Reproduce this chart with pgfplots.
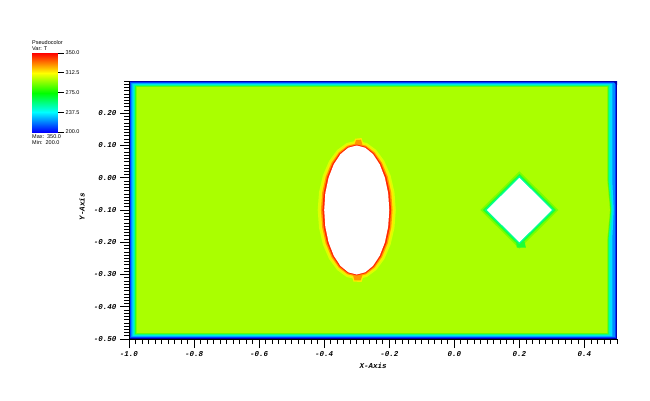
\documentclass[border=0pt]{standalone}
\usepackage{fontspec}
\setmainfont{Liberation Sans}
\setmonofont{Liberation Mono}
\usepackage{pgfplots}
\pgfplotsset{compat=1.18}

\definecolor{wall0}{RGB}{0,0,170}
\definecolor{wall1}{RGB}{0,60,255}
\definecolor{wall2}{RGB}{0,140,255}
\definecolor{wall3}{RGB}{0,220,255}
\definecolor{wall4}{RGB}{0,255,170}
\definecolor{wall5}{RGB}{40,255,40}
\definecolor{wall6}{RGB}{120,255,0}
\definecolor{bulk}{RGB}{170,255,0}
\definecolor{hot0}{RGB}{220,255,0}
\definecolor{hot1}{RGB}{255,235,0}
\definecolor{hot2}{RGB}{255,150,0}
\definecolor{hot3}{RGB}{255,40,0}
\definecolor{dia0}{RGB}{120,255,0}
\definecolor{dia1}{RGB}{30,255,50}
\definecolor{dia2}{RGB}{0,255,150}

\pgfplotsset{colormap={visithot}{rgb255=(0,0,255) rgb255=(0,255,255) rgb255=(0,255,0) rgb255=(255,255,0) rgb255=(255,0,0)}}

\begin{document}
\begin{tikzpicture}
\path[use as bounding box] (0,0) rectangle (650pt,400pt);

% colour legend
\begin{axis}[
    at={(32pt,268pt)}, anchor=south west,
    scale only axis, width=26pt, height=79pt,
    xmin=0, xmax=1, ymin=200, ymax=350,
    axis line style={draw=none},
    xtick=\empty,
    ytick={200,237.5,275,312.5,350},
    ytick pos=right, yticklabel pos=right,
    tick align=outside, major tick length=6pt,
    tick style={black, line width=0.6pt},
    yticklabel style={font=\fontsize{5.5}{6}\selectfont, inner sep=1.5pt,
        /pgf/number format/.cd, fixed, fixed zerofill, precision=1, assume math mode=true},
    colormap name=visithot,
]
\addplot[surf, shader=interp, mesh/rows=5, mesh/cols=2, point meta=y] coordinates {
    (0,200) (1,200)
    (0,237.5) (1,237.5)
    (0,275) (1,275)
    (0,312.5) (1,312.5)
    (0,350) (1,350)
};
\end{axis}

\begin{axis}[
    at={(129pt,61pt)}, anchor=south west,
    scale only axis, width=488pt, height=258pt,
    xmin=-1, xmax=0.5, ymin=-0.5, ymax=0.3,
    axis x line*=bottom, axis y line*=left,
    axis on top, no markers,
    axis line style={black, line width=0.8pt},
    tick align=outside,
    major tick length=9pt, minor tick length=5pt,
    tick style={black, line width=0.7pt},
    xtick={-1,-0.8,-0.6,-0.4,-0.2,0,0.2,0.4},
    ytick={-0.5,-0.4,-0.3,-0.2,-0.1,0,0.1,0.2},
    minor xtick={-1,-0.98,...,0.5},
    minor ytick={-0.5,-0.49,...,0.3},
    ticklabel style={font=\ttfamily\bfseries\itshape\fontsize{7.5}{8}\selectfont},
    xticklabel style={/pgf/number format/.cd, fixed, fixed zerofill, precision=1, assume math mode=true},
    yticklabel style={/pgf/number format/.cd, fixed, fixed zerofill, precision=2, assume math mode=true},
    xlabel={X-Axis}, ylabel={Y-Axis},
    label style={font=\ttfamily\bfseries\itshape\fontsize{7.5}{8}\selectfont},
    xlabel style={at={(axis description cs:0.5,-0.105)}, anchor=center},
    ylabel style={at={(axis description cs:-0.0963,0.512)}, anchor=center},
]
% cold walls
\addplot[fill=wall0, draw=none] coordinates {(-1,-0.5) (0.5,-0.5) (0.5,0.3) (-1,0.3)} -- cycle;
\addplot[fill=wall1, draw=none] coordinates {(-0.9965,-0.498) (0.497,-0.498) (0.497,0.2975) (-0.9965,0.2975)} -- cycle;
\addplot[fill=wall2, draw=none] coordinates {(-0.993,-0.495) (0.493,-0.495) (0.493,0.295) (-0.993,0.295)} -- cycle;
\addplot[fill=wall0, draw=none] coordinates {(0.487,0.3) (0.5,0.3) (0.5,0.287)} -- cycle;
\addplot[fill=wall3, draw=none] coordinates {(-0.9895,-0.492) (0.486,-0.492) (0.486,-0.18) (0.490,-0.1) (0.486,-0.02) (0.486,0.292) (-0.9895,0.292)} -- cycle;
\addplot[fill=wall4, draw=none] coordinates {(-0.986,-0.489) (0.479,-0.489) (0.479,-0.19) (0.486,-0.1) (0.479,-0.01) (0.479,0.289) (-0.986,0.289)} -- cycle;
\addplot[fill=wall5, draw=none] coordinates {(-0.982,-0.4855) (0.474,-0.4855) (0.474,-0.19) (0.482,-0.1) (0.474,-0.01) (0.474,0.2855) (-0.982,0.2855)} -- cycle;
\addplot[fill=wall6, draw=none] coordinates {(-0.978,-0.483) (0.472,-0.483) (0.472,-0.19) (0.480,-0.1) (0.472,-0.01) (0.472,0.283) (-0.978,0.283)} -- cycle;
\addplot[fill=bulk, draw=none] coordinates {(-0.975,-0.481) (0.470,-0.481) (0.470,-0.19) (0.478,-0.1) (0.470,-0.01) (0.470,0.281) (-0.975,0.281)} -- cycle;

% hot ellipse
\addplot[fill=hot0, draw=none] coordinates {
    (-0.18,-0.1) (-0.1841,-0.0444) (-0.1961,0.0075) (-0.2151,0.052) (-0.24,0.0862) (-0.2689,0.1077)
    (-0.3,0.115) (-0.3311,0.1077) (-0.36,0.0862) (-0.3849,0.052) (-0.4039,0.0075) (-0.4159,-0.0444)
    (-0.42,-0.1) (-0.4159,-0.1556) (-0.4039,-0.2075) (-0.3849,-0.252) (-0.36,-0.2862) (-0.3311,-0.3077)
    (-0.3,-0.315) (-0.2689,-0.3077) (-0.24,-0.2862) (-0.2151,-0.252) (-0.1961,-0.2075) (-0.1841,-0.1556)} -- cycle;
\addplot[fill=hot1, draw=none] coordinates {
    (-0.1855,-0.1) (-0.1894,-0.0457) (-0.2008,0.005) (-0.219,0.0485) (-0.2427,0.0819) (-0.2704,0.1028)
    (-0.3,0.11) (-0.3296,0.1028) (-0.3573,0.0819) (-0.381,0.0485) (-0.3992,0.005) (-0.4106,-0.0457)
    (-0.4145,-0.1) (-0.4106,-0.1543) (-0.3992,-0.205) (-0.381,-0.2485) (-0.3573,-0.2819) (-0.3296,-0.3028)
    (-0.3,-0.31) (-0.2704,-0.3028) (-0.2427,-0.2819) (-0.219,-0.2485) (-0.2008,-0.205) (-0.1894,-0.1543)} -- cycle;
\addplot[fill=hot1, draw=none] coordinates {(-0.312,0.1) (-0.305,0.121) (-0.285,0.123) (-0.278,0.1)} -- cycle;
\addplot[fill=hot1, draw=none] coordinates {(-0.316,-0.3) (-0.31,-0.322) (-0.285,-0.323) (-0.278,-0.3)} -- cycle;
\addplot[fill=hot2, draw=none] coordinates {
    (-0.19,-0.1) (-0.1938,-0.0466) (-0.2047,0.0033) (-0.2222,0.046) (-0.245,0.0788) (-0.2715,0.0995)
    (-0.3,0.1065) (-0.3285,0.0995) (-0.355,0.0788) (-0.3778,0.046) (-0.3953,0.0033) (-0.4062,-0.0466)
    (-0.41,-0.1) (-0.4062,-0.1534) (-0.3953,-0.2033) (-0.3778,-0.246) (-0.355,-0.2788) (-0.3285,-0.2995)
    (-0.3,-0.3065) (-0.2715,-0.2995) (-0.245,-0.2788) (-0.2222,-0.246) (-0.2047,-0.2033) (-0.1938,-0.1534)} -- cycle;
\addplot[fill=hot2, draw=none] coordinates {(-0.308,0.1) (-0.302,0.117) (-0.287,0.118) (-0.282,0.1)} -- cycle;
\addplot[fill=hot2, draw=none] coordinates {(-0.312,-0.3) (-0.307,-0.318) (-0.288,-0.318) (-0.282,-0.3)} -- cycle;
\addplot[fill=hot3, draw=none] coordinates {
    (-0.1945,-0.1) (-0.1981,-0.0475) (-0.2086,0.0015) (-0.2254,0.0435) (-0.2472,0.0758) (-0.2727,0.0961)
    (-0.3,0.103) (-0.3273,0.0961) (-0.3528,0.0758) (-0.3746,0.0435) (-0.3914,0.0015) (-0.4019,-0.0475)
    (-0.4055,-0.1) (-0.4019,-0.1525) (-0.3914,-0.2015) (-0.3746,-0.2435) (-0.3528,-0.2758) (-0.3273,-0.2961)
    (-0.3,-0.303) (-0.2727,-0.2961) (-0.2472,-0.2758) (-0.2254,-0.2435) (-0.2086,-0.2015) (-0.1981,-0.1525)} -- cycle;
\addplot[fill=white, draw=none] coordinates {
    (-0.2,-0.1) (-0.2034,-0.0482) (-0.2134,0.0) (-0.2293,0.0414) (-0.25,0.0732) (-0.2741,0.0932)
    (-0.3,0.1) (-0.3259,0.0932) (-0.35,0.0732) (-0.3707,0.0414) (-0.3866,0.0) (-0.3966,-0.0482)
    (-0.4,-0.1) (-0.3966,-0.1518) (-0.3866,-0.2) (-0.3707,-0.2414) (-0.35,-0.2732) (-0.3259,-0.2932)
    (-0.3,-0.3) (-0.2741,-0.2932) (-0.25,-0.2732) (-0.2293,-0.2414) (-0.2134,-0.2) (-0.2034,-0.1518)} -- cycle;

% cooler diamond
\addplot[fill=dia0, draw=none] coordinates {(0.08,-0.1) (0.2,-0.22) (0.32,-0.1) (0.2,0.02)} -- cycle;
\addplot[fill=dia1, draw=none] coordinates {(0.088,-0.1) (0.2,-0.212) (0.312,-0.1) (0.2,0.012)} -- cycle;
\addplot[fill=dia1, draw=none] coordinates {(0.19,-0.198) (0.192,-0.217) (0.22,-0.217) (0.216,-0.198)} -- cycle;
\addplot[fill=dia2, draw=none] coordinates {(0.094,-0.1) (0.2,-0.206) (0.306,-0.1) (0.2,0.006)} -- cycle;
\addplot[fill=white, draw=none] coordinates {(0.1,-0.1) (0.2,-0.2) (0.3,-0.1) (0.2,0)} -- cycle;
\end{axis}

\begin{scope}[every node/.style={anchor=west, inner sep=0pt, font=\fontsize{5.5}{6}\selectfont}]
\node at (32pt,357pt) {Pseudocolor};
\node at (32pt,351.5pt) {Var: T};
\node at (32pt,263pt) {Max:\ \ 350.0};
\node at (32pt,257.5pt) {Min:\ \ 200.0};
\end{scope}
\end{tikzpicture}
\end{document}
